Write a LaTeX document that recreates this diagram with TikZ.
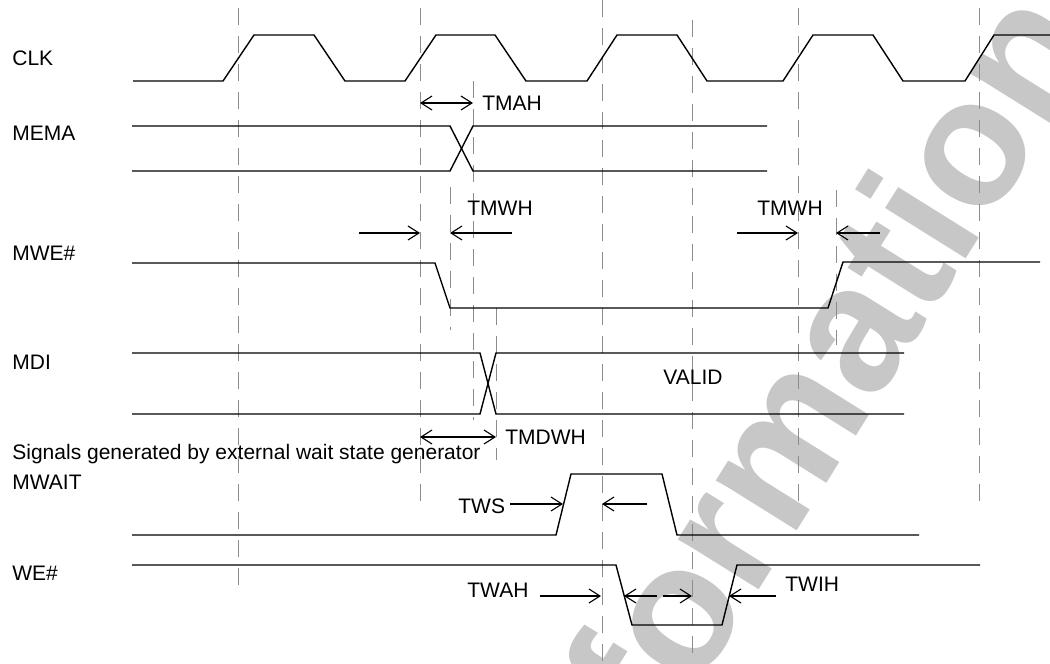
\documentclass[tikz,border=0pt]{standalone}
\usepackage{fontspec}
\setmainfont{Liberation Sans}
\usetikzlibrary{arrows.meta, positioning}

\begin{document}
\begin{tikzpicture}[x=0.5pt, y=-0.5pt,
    wave/.style={draw, line width=0.7pt},
    grid/.style={draw=black!45, line width=0.5pt, dash pattern=on 8.5pt off 5.5pt},
    timing/.style={draw, line width=0.55pt, -{Straight Barb[length=5.5pt, width=7pt]}},
    twoway/.style={timing, {Straight Barb[length=5.5pt, width=7pt]}-{Straight Barb[length=5.5pt, width=7pt]}},
    sig/.style={anchor=west, inner sep=0pt, text height=7.4pt, text depth=0pt, font=\fontsize{10.5}{12}\selectfont},
    stamp/.style={text=black!22, font=\bfseries\fontsize{90}{94}\selectfont, rotate=58, inner sep=0pt, text height=0.52em, text depth=0pt}]

    \useasboundingbox (0,0) rectangle (1050,664);
    \fill[white] (0,0) rectangle (1050,664);

    % Watermark
    \begin{scope}
        \clip (0,0) rectangle (1050,664);
        \node [stamp] (stamp) at (836,458) {Information};
    \end{scope}

    % Clock edges and markers
    \foreach \x/\ya/\yb in {238/8/595, 420/8/507, 450/187/330, 473/81/420, 496/308/460,
                            602/0/664, 692/20/664, 798/8/505, 836/190/345, 979/8/505}
        \draw [grid] (\x,\ya) -- (\x,\yb);

    % Signal names
    \node [sig] (clk) at (12,58) {CLK};
    \node [sig] (mema) at (12,133) {MEMA};
    \node [sig] (mwe) at (12,253) {MWE\#};
    \node [sig] (mdi) at (12,362) {MDI};
    \node [sig] (ext) at (12,452) {Signals generated by external wait state generator};
    \node [sig] (mwait) at (12,482) {MWAIT};
    \node [sig] (we) at (12,573) {WE\#};

    % Waveforms
    \draw [wave] (133,81) -- (223,81) -- (254,35) -- (314,35) -- (345,81) -- (405,81) -- (436,35)
        -- (495,35) -- (526,81) -- (587,81) -- (617,35) -- (677,35) -- (707,81) -- (783,81)
        -- (813,35) -- (873,35) -- (903,81) -- (965,81) -- (994,35) -- (1050,35);
    \draw [wave] (132,126) -- (450,126) -- (473,171) -- (767,171);
    \draw [wave] (132,171) -- (450,171) -- (473,126) -- (767,126);
    \draw [wave] (132,263) -- (435,263) -- (450,308) -- (828,308) -- (843,262) -- (1040,262);
    \draw [wave] (132,353) -- (480,353) -- (496,414) -- (904,414);
    \draw [wave] (132,414) -- (480,414) -- (496,353) -- (904,353);
    \draw [wave] (132,535) -- (556,535) -- (571,474) -- (662,474) -- (677,535) -- (919,535);
    \draw [wave] (132,565) -- (616,565) -- (632,625) -- (722,625) -- (737,565) -- (980,565);

    % Timing points
    \coordinate (tmahA) at (420,103);
    \coordinate (tmahB) at (473,103);
    \coordinate (mwhA) at (359,233);
    \coordinate (mwhB) at (420,233);
    \coordinate (mwhC) at (512,233);
    \coordinate (mwhD) at (450,233);
    \coordinate (mwhE) at (737,233);
    \coordinate (mwhF) at (798,233);
    \coordinate (mwhG) at (880,233);
    \coordinate (mwhH) at (836,233);
    \coordinate (tmdA) at (420,437);
    \coordinate (tmdB) at (496,437);
    \coordinate (twsA) at (510,504);
    \coordinate (twsB) at (563,504);
    \coordinate (twsC) at (647,504);
    \coordinate (twsD) at (602,504);
    \coordinate (twahA) at (540,596);
    \coordinate (twahB) at (601,596);
    \coordinate (lowA) at (624,596);
    \coordinate (lowB) at (692,596);
    \coordinate (twihA) at (776,596);
    \coordinate (twihB) at (729,596);

    % Timing labels
    \node [sig] (tmah) at (482,103) {TMAH};
    \node [sig] (tmwh1) at (467,208) {TMWH};
    \node [sig] (tmwh2) at (757,208) {TMWH};
    \node [sig] (valid) at (663,377) {VALID};
    \node [sig] (tmdwh) at (505,437) {TMDWH};
    \node [sig] (tws) at (458,506) {TWS};
    \node [sig] (twah) at (467,590) {TWAH};
    \node [sig] (twih) at (785,584) {TWIH};

    % Timing arrows
    \draw [twoway] (tmahA) -- (tmahB);
    \draw [timing] (mwhA) -- (mwhB);
    \draw [timing] (mwhC) -- (mwhD);
    \draw [timing] (mwhE) -- (mwhF);
    \draw [timing] (mwhG) -- (mwhH);
    \draw [twoway] (tmdA) -- (tmdB);
    \draw [timing] (twsA) -- (twsB);
    \draw [timing] (twsC) -- (twsD);
    \draw [timing] (twahA) -- (twahB);
    \draw [twoway, dash pattern=on 15.5pt off 3pt] (lowA) -- (lowB);
    \draw [timing] (twihA) -- (twihB);

\end{tikzpicture}
\end{document}
